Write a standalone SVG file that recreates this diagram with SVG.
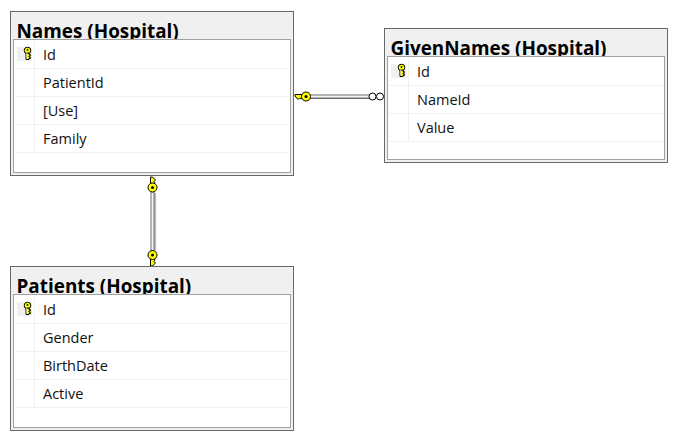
<svg xmlns="http://www.w3.org/2000/svg" width="686" height="446" viewBox="0 0 686 446">
<defs>
<style>
.outer{fill:#f0f0f0;stroke:#696969;stroke-width:1}
.inner{fill:#fff;stroke:#a0a0a0;stroke-width:1}
.title{font:bold 18.9px "Open Sans","Noto Sans",sans-serif;fill:#000}
.row{font:14.5px "Open Sans","Noto Sans",sans-serif;fill:#111}
.grid{stroke:#f0f0f0;stroke-width:1;fill:none}
.keybg{fill:#f0f0f0}
.kf{fill:#ffff00;stroke:#000;stroke-width:1}
.c1{stroke:#b4b4b4;stroke-width:5;fill:none}
.c2{stroke:#707070;stroke-width:1;fill:none}
.c3{stroke:#f4f4f4;stroke-width:1;fill:none}
.ring{fill:#fff;stroke:#000;stroke-width:1}
</style>
<g id="key">
<circle class="kf" cx="0" cy="-3" r="3.300"/>
<path class="kf" d="M-1.500 -.5V6H1.500V5H2.800V3.500H1.500V2.500H2.800V1H1.500V-.5Z"/>
<path d="M-1 -1.500V5" stroke="#fff" stroke-width=".5"/>
<circle cx="0" cy="-3.600" r=".9" fill="#000"/>
</g>
</defs>
<rect width="686" height="446" fill="#fff"/>
<g id="connectors">
<g id="conn-names-givennames">
<path class="c1" d="M306 96.500H372"/><path class="c2" d="M310 98.500H369"/><path class="c3" d="M310 96.500H369"/>
<path class="kf" d="M302 94.500H295V96L298 99.500L299.500 98L301 99L303 98Z"/>
<circle class="kf" cx="306" cy="96.500" r="4.500"/>
<circle cx="306" cy="96.500" r="1.500" fill="#000"/>
<circle class="ring" cx="372.500" cy="96.500" r="3.500"/>
<circle class="ring" cx="380" cy="96.500" r="3.500"/>
</g>
<g id="conn-names-patients">
<path class="c1" d="M152.500 190V252"/><path class="c2" d="M155 193V250"/><path class="c3" d="M152.500 193V250"/>
<path class="kf" d="M150.500 184V177H152.500L155.500 180L154 181.500L155 183L154 185Z"/>
<circle class="kf" cx="152.500" cy="187.500" r="4.500"/>
<circle cx="152.500" cy="187.500" r="1.500" fill="#000"/>
<path class="kf" d="M150.500 259V266H152.500L155.500 263L154 261.500L155 260L154 258Z"/>
<circle class="kf" cx="152.500" cy="255" r="4.500"/>
<circle cx="152.500" cy="255" r="1.500" fill="#000"/>
</g>
</g>
<g id="node-names">
<rect class="outer" x="10.500" y="11.500" width="283" height="164"/>
<text class="title" x="16.500" y="37.500">Names (Hospital)</text>
<rect class="inner" x="13.500" y="39.500" width="277" height="133"/>
<path class="grid" d="M15 68.500H289M15 96.500H289M15 124.500H289M15 152.500H289M34.500 41V152"/>
<rect class="keybg" x="17" y="47" width="15" height="14"/>
<use href="#key" x="27.500" y="53.500"/>
<text class="row" x="43" y="60">Id</text>
<text class="row" x="43" y="88">PatientId</text>
<text class="row" x="43" y="116">[Use]</text>
<text class="row" x="43" y="144">Family</text>
</g>
<g id="node-givennames">
<rect class="outer" x="384.500" y="28.500" width="283" height="134"/>
<text class="title" x="390.500" y="54.500">GivenNames (Hospital)</text>
<rect class="inner" x="387.500" y="56.500" width="277" height="103"/>
<path class="grid" d="M389 85.500H663M389 113.500H663M389 141.500H663M408.500 58V141"/>
<rect class="keybg" x="391" y="64" width="15" height="14"/>
<use href="#key" x="401.500" y="70.500"/>
<text class="row" x="417" y="77">Id</text>
<text class="row" x="417" y="105">NameId</text>
<text class="row" x="417" y="133">Value</text>
</g>
<g id="node-patients">
<rect class="outer" x="10.500" y="266.500" width="283" height="164"/>
<text class="title" x="16.500" y="292.500">Patients (Hospital)</text>
<rect class="inner" x="13.500" y="294.500" width="277" height="133"/>
<path class="grid" d="M15 323.500H289M15 351.500H289M15 379.500H289M15 407.500H289M34.500 296V407"/>
<rect class="keybg" x="17" y="302" width="15" height="14"/>
<use href="#key" x="27.500" y="308.500"/>
<text class="row" x="43" y="315">Id</text>
<text class="row" x="43" y="343">Gender</text>
<text class="row" x="43" y="371">BirthDate</text>
<text class="row" x="43" y="399">Active</text>
</g>
</svg>
